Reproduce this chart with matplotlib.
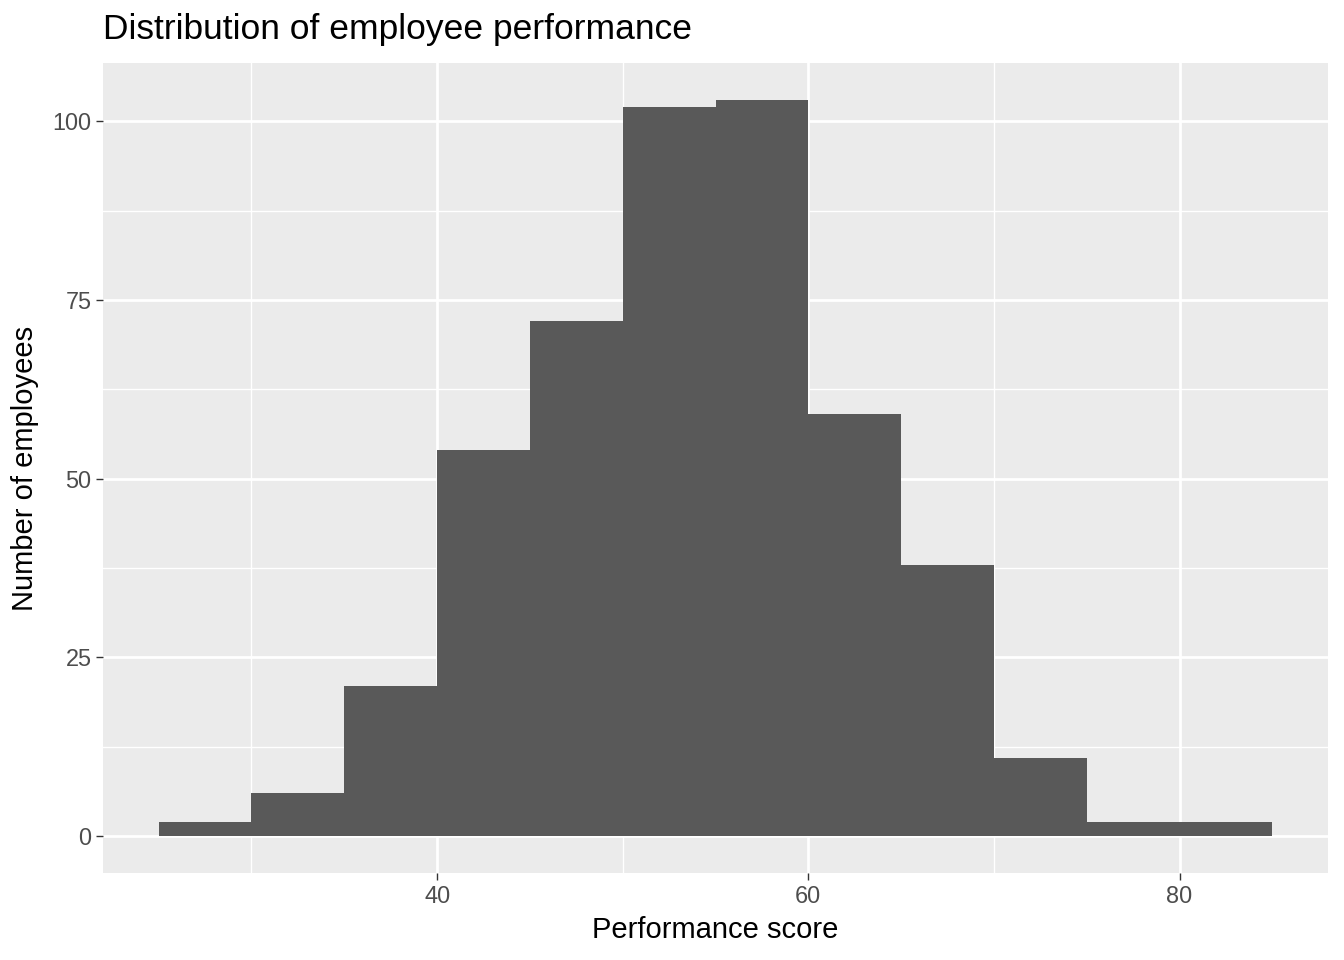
import numpy as np
import matplotlib.pyplot as plt

plt.rcParams['font.family'] = ['Liberation Sans', 'DejaVu Sans']

# histogram bins (width 5) and counts
bin_edges = [25, 30, 35, 40, 45, 50, 55, 60, 65, 70, 75, 80, 85]
counts = [2, 6, 21, 54, 72, 102, 103, 59, 38, 11, 2, 2]
x_ticks = [40, 60, 80]
y_ticks = [0, 25, 50, 75, 100]

fig = plt.figure(figsize=(13.44, 9.6), dpi=100)
ax = fig.add_axes([103 / 1344, 87 / 960, 1225 / 1344, 810 / 960])
ax.set_facecolor("#EBEBEB")

lefts = np.array(bin_edges[:-1])
widths = np.diff(bin_edges)
ax.bar(lefts, counts, width=widths, align="edge", color="#595959", linewidth=0, zorder=3)

xr = bin_edges[-1] - bin_edges[0]
ax.set_xlim(bin_edges[0] - 0.05 * xr, bin_edges[-1] + 0.05 * xr)
yr = max(counts)
ax.set_ylim(-0.05 * yr, yr * 1.05)

ax.set_xticks(x_ticks)
ax.set_yticks(y_ticks)
ax.set_xticks([30, 50, 70], minor=True)
ax.set_yticks([12.5, 37.5, 62.5, 87.5], minor=True)
ax.grid(which="major", color="white", linewidth=2.0, zorder=1)
ax.grid(which="minor", color="white", linewidth=1.0, zorder=1)
ax.set_axisbelow(True)
for s in ax.spines.values():
    s.set_visible(False)

ax.tick_params(which="major", length=5.3, width=1.0, color="#333333",
               labelsize=16.9, labelcolor="#4D4D4D", pad=3)
ax.tick_params(which="minor", length=0)

ax.set_xlabel("Performance score", fontsize=21, labelpad=6)
ax.set_ylabel("Number of employees", fontsize=21, labelpad=10)
ax.set_title("Distribution of employee performance", fontsize=25.5, loc="left", pad=17)

fig.savefig("out.png", dpi=100)
